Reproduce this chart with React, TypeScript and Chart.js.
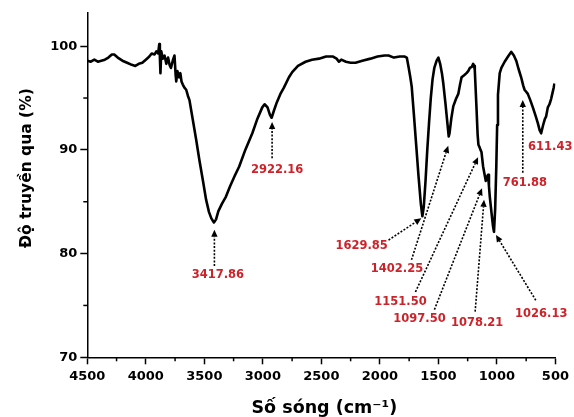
import React, { useEffect, useRef } from "react";
import { Chart, registerables } from "chart.js";

Chart.register(...registerables);

// ---- Data ----
const wavenumbers = [
  4500, 4470, 4440, 4410, 4380, 4350, 4320, 4290, 4270, 4240, 4200, 4160, 4120, 4090, 4060, 4030,
  4000, 3970, 3950, 3925, 3910, 3895, 3885, 3880, 3875, 3868, 3855, 3840, 3825, 3810, 3797, 3785,
  3770, 3755, 3745, 3740, 3730, 3715, 3705, 3695, 3684, 3670, 3655, 3640, 3627, 3600, 3570, 3542,
  3510, 3485, 3460, 3440, 3418, 3400, 3380, 3350, 3315, 3280, 3240, 3202, 3150, 3090, 3050, 3005,
  2985, 2960, 2940, 2925, 2905, 2880, 2850, 2820, 2777, 2749, 2700, 2635, 2580, 2520, 2460, 2400,
  2370, 2350, 2330, 2290, 2250, 2208, 2150, 2080, 2020, 1960, 1926, 1880, 1830, 1790, 1770, 1755,
  1740, 1728, 1710, 1690, 1670, 1650, 1637, 1625, 1610, 1595, 1580, 1565, 1550, 1535, 1515, 1500,
  1485, 1470, 1458, 1440, 1425, 1412, 1405, 1390, 1373, 1350, 1330, 1315, 1302, 1280, 1260, 1245,
  1231, 1215, 1203, 1195, 1189, 1175, 1165, 1158, 1150, 1140, 1132, 1118, 1105, 1095, 1085, 1076,
  1068, 1061, 1045, 1033, 1025, 1015, 1005, 998, 991, 976, 962, 934, 905, 878, 855, 835,
  815, 793, 775, 764, 750, 736, 715, 693, 670, 651, 635, 622, 605, 590, 580, 565,
  551, 537, 525, 515, 508,
];

const transmittance = [
  98.6, 98.5, 98.7, 98.5, 98.6, 98.7, 98.9, 99.2, 99.2, 98.9, 98.6, 98.4, 98.2, 98.1, 98.3, 98.4,
  98.7, 99.0, 99.3, 99.2, 99.5, 99.3, 100.2, 99.0, 97.4, 99.5, 98.8, 99.1, 98.3, 98.9, 98.2, 97.9,
  98.6, 99.1, 97.2, 96.6, 97.6, 97.0, 97.4, 96.6, 96.3, 96.0, 95.8, 95.2, 94.8, 93.0, 91.0, 89.0,
  86.9, 85.2, 84.0, 83.4, 83.0, 83.3, 84.1, 84.8, 85.5, 86.5, 87.5, 88.4, 90.0, 91.6, 92.9, 94.1,
  94.4, 94.1, 93.4, 93.1, 93.8, 94.6, 95.4, 96.0, 97.0, 97.5, 98.1, 98.5, 98.7, 98.8, 99.0, 99.0,
  98.8, 98.5, 98.7, 98.5, 98.4, 98.4, 98.6, 98.8, 99.0, 99.1, 99.1, 98.9, 99.0, 99.0, 98.9, 98.0,
  97.0, 96.1, 93.5, 90.5, 87.5, 84.8, 83.6, 84.5, 87.0, 90.0, 92.6, 95.0, 96.8, 97.9, 98.6, 98.9,
  98.3, 97.4, 96.4, 94.5, 92.8, 91.3, 91.6, 93.0, 94.2, 94.9, 95.4, 96.3, 97.0, 97.2, 97.4, 97.6,
  97.9, 98.0, 98.3, 98.1, 97.7, 94.2, 91.5, 90.5, 90.3, 90.0, 89.8, 88.4, 87.6, 87.0, 87.4, 87.6,
  86.5, 85.5, 83.8, 82.6, 82.1, 84.3, 88.5, 92.4, 95.3, 97.4, 97.9, 98.5, 99.0, 99.45, 99.1, 98.6,
  97.8, 97.0, 96.2, 95.8, 95.6, 95.4, 94.8, 94.1, 93.3, 92.6, 91.9, 91.6, 92.4, 93.0, 93.2, 94.1,
  94.4, 94.9, 95.5, 96.0, 96.4,
];

const xTickValues = [4500, 4000, 3500, 3000, 2500, 2000, 1500, 1000, 500];
const xMinorTickValues = [4250, 3750, 3250, 2750, 2250, 1750, 1250, 750];
const yTickValues = [70, 80, 90, 100];
const yMinorTickValues = [75, 85, 95];

const xTitle = "Số sóng (cm⁻¹)";
const yTitle = "Độ truyền qua (%)";

// Peak annotations: label text, label centre (data units), optional arrow tail/tip (data units)
const peakLabels = [
  "3417.86", "2922.16", "1629.85", "1402.25", "1151.50",
  "1097.50", "1078.21", "1026.13", "761.88", "611.43",
];
const annotationLayout: { at: [number, number]; tail?: [number, number]; tip?: [number, number] }[] = [
  { at: [3384, 77.9], tail: [3414, 78.8], tip: [3414, 82.3] },
  { at: [2878, 88.1], tail: [2921, 89.2], tip: [2921, 92.7] },
  { at: [2156, 80.7], tail: [1926, 81.3], tip: [1646, 83.4] },
  { at: [1854, 78.5], tail: [1730, 79.4], tip: [1416, 90.4] },
  { at: [1824, 75.3], tail: [1696, 76.3], tip: [1161, 89.3] },
  { at: [1662, 73.7], tail: [1534, 74.6], tip: [1127, 86.3] },
  { at: [1169, 73.3], tail: [1186, 74.4], tip: [1110, 85.2] },
  { at: [621, 74.2], tail: [668, 75.5], tip: [1008, 81.8] },
  { at: [761, 86.8], tail: [779, 87.8], tip: [779, 94.8] },
  { at: [544, 90.3] },
];

const RED = "#cc2229";
const FONT = '"DejaVu Sans", "Liberation Sans", Arial, sans-serif';

const overlayPlugin = {
  id: "ftirOverlay",
  afterDraw(chart: any) {
    const ctx: CanvasRenderingContext2D = chart.ctx;
    const xs = chart.scales.x;
    const ys = chart.scales.y;
    const area = chart.chartArea;
    ctx.save();

    // minor ticks
    ctx.strokeStyle = "#000";
    ctx.lineWidth = 1.5;
    ctx.setLineDash([]);
    for (const v of xMinorTickValues) {
      const px = xs.getPixelForValue(v);
      ctx.beginPath();
      ctx.moveTo(px, area.bottom);
      ctx.lineTo(px, area.bottom + 4);
      ctx.stroke();
    }
    for (const v of yMinorTickValues) {
      const py = ys.getPixelForValue(v);
      ctx.beginPath();
      ctx.moveTo(area.left, py);
      ctx.lineTo(area.left - 4, py);
      ctx.stroke();
    }

    // annotations
    peakLabels.forEach((text, i) => {
      const a = annotationLayout[i];
      if (a.tail && a.tip) {
        const x1 = xs.getPixelForValue(a.tail[0]);
        const y1 = ys.getPixelForValue(a.tail[1]);
        const x2 = xs.getPixelForValue(a.tip[0]);
        const y2 = ys.getPixelForValue(a.tip[1]);
        const ang = Math.atan2(y2 - y1, x2 - x1);
        const head = 7;
        const bx = x2 - head * Math.cos(ang);
        const by = y2 - head * Math.sin(ang);
        ctx.strokeStyle = "#000";
        ctx.lineWidth = 1.6;
        ctx.setLineDash([2, 1.6]);
        ctx.beginPath();
        ctx.moveTo(x1, y1);
        ctx.lineTo(bx, by);
        ctx.stroke();
        ctx.setLineDash([]);
        ctx.fillStyle = "#000";
        ctx.beginPath();
        ctx.moveTo(x2, y2);
        ctx.lineTo(bx + 3.2 * Math.sin(ang), by - 3.2 * Math.cos(ang));
        ctx.lineTo(bx - 3.2 * Math.sin(ang), by + 3.2 * Math.cos(ang));
        ctx.closePath();
        ctx.fill();
      }
      ctx.fillStyle = RED;
      ctx.font = `bold 11.5px ${FONT}`;
      ctx.textAlign = "center";
      ctx.textBaseline = "middle";
      ctx.fillText(text, xs.getPixelForValue(a.at[0]), ys.getPixelForValue(a.at[1]));
    });

    // axis titles
    ctx.fillStyle = "#000";
    ctx.font = `bold 17.5px ${FONT}`;
    ctx.textAlign = "center";
    ctx.textBaseline = "alphabetic";
    ctx.fillText(xTitle, (area.left + area.right) / 2 + 3, chart.height - 4);

    ctx.save();
    ctx.translate(31, (area.top + area.bottom) / 2 - 17);
    ctx.rotate(-Math.PI / 2);
    ctx.font = `bold 15.5px ${FONT}`;
    ctx.textAlign = "center";
    ctx.textBaseline = "alphabetic";
    ctx.fillText(yTitle, 0, 0);
    ctx.restore();

    ctx.restore();
  },
};

export default function App() {
  const canvasRef = useRef<HTMLCanvasElement | null>(null);

  useEffect(() => {
    document.body.style.margin = "0";
    const canvas = canvasRef.current;
    if (!canvas) return;
    const chart = new Chart(canvas, {
      type: "line",
      data: {
        datasets: [
          {
            data: wavenumbers.map((w, i) => ({ x: w, y: transmittance[i] })),
            borderColor: "#000",
            borderWidth: 2.6,
            pointRadius: 0,
            tension: 0,
            fill: false,
            borderJoinStyle: "round",
          },
        ],
      },
      options: {
        responsive: false,
        animation: false,
        devicePixelRatio: 1,
        layout: { padding: { top: 13, right: 16.3, left: 0, bottom: 0 } },
        plugins: { legend: { display: false }, tooltip: { enabled: false }, title: { display: false } },
        scales: {
          x: {
            type: "linear",
            position: "bottom",
            reverse: true,
            min: 500,
            max: 4500,
            afterBuildTicks: (scale: any) => {
              scale.ticks = xTickValues.map((v) => ({ value: v }));
            },
            afterFit: (scale: any) => {
              scale.height = 59.7;
            },
            ticks: {
              color: "#000",
              font: { family: FONT, size: 13, weight: "bold" },
              padding: 5,
              maxRotation: 0,
              autoSkip: false,
              callback: (v: any) => String(v),
            },
            grid: {
              drawOnChartArea: false,
              drawTicks: true,
              tickLength: 7,
              tickWidth: 1.5,
              tickColor: "#000",
            },
            border: { display: true, color: "#000", width: 1.5 },
          },
          y: {
            type: "linear",
            min: 70,
            max: 103.2,
            afterBuildTicks: (scale: any) => {
              scale.ticks = yTickValues.map((v) => ({ value: v }));
            },
            afterFit: (scale: any) => {
              scale.width = 87.3;
            },
            ticks: {
              color: "#000",
              font: { family: FONT, size: 13, weight: "bold" },
              padding: 3,
              callback: (v: any) => String(v),
            },
            grid: {
              drawOnChartArea: false,
              drawTicks: true,
              tickLength: 7,
              tickWidth: 1.5,
              tickColor: "#000",
            },
            border: { display: true, color: "#000", width: 1.5 },
          },
        },
      },
      plugins: [overlayPlugin],
    });
    return () => chart.destroy();
  }, []);

  return (
    <div style={{ width: 574, height: 417, position: "relative", background: "#fff" }}>
      <canvas ref={canvasRef} width={574} height={417} style={{ display: "block" }} />
    </div>
  );
}
